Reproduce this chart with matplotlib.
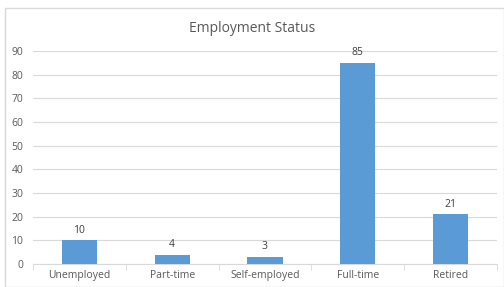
import matplotlib
matplotlib.use("Agg")
import matplotlib.pyplot as plt
from matplotlib.patches import Rectangle

categories = ["Unemployed", "Part-time", "Self-employed", "Full-time", "Retired"]
values = [10, 4, 3, 85, 21]
yticks = [0, 10, 20, 30, 40, 50, 60, 70, 80, 90]

plt.rcParams['font.family'] = ['Open Sans', 'DejaVu Sans']
txt = '#595959'

fig = plt.figure(figsize=(5.04, 2.87), dpi=100)
fig.patches.append(Rectangle((5/504, 0), 1 - 5/504 - 0.5/504, 1 - 8/287, transform=fig.transFigure,
                             fill=False, edgecolor='#D9D9D9', linewidth=1))
ax = fig.add_axes([33/504, 23/287, 464/504, 213/287])
x = list(range(len(categories)))
bars = ax.bar(x, values, width=0.38, color='#5B9BD5', zorder=3)
for xi, v in zip(x, values):
    ax.text(xi, v + 2, str(v), ha='center', va='bottom', fontsize=7.5, color='#404040')
ax.set_xlim(-0.5, len(categories) - 0.5)
ax.set_ylim(0, 90)
ax.set_yticks(yticks)
ax.set_xticks(x)
ax.set_xticklabels(categories)
ax.tick_params(axis='y', length=0, labelsize=7.5, colors=txt, pad=7)
ax.tick_params(axis='x', length=0, labelsize=7.5, colors=txt, pad=4)
ax.set_xticks([i + 0.5 for i in range(-1, len(categories))], minor=True)
ax.tick_params(axis='x', which='minor', length=4, color='#D9D9D9', direction='out')
ax.grid(axis='y', color='#D9D9D9', linewidth=0.8, zorder=0)
for s in ['top', 'right', 'left']:
    ax.spines[s].set_visible(False)
ax.spines['bottom'].set_color('#D9D9D9')
fig.text(0.5, 1 - 28/287, "Employment Status", ha='center', va='center', fontsize=10, color=txt)
fig.savefig('out.png', dpi=100)
